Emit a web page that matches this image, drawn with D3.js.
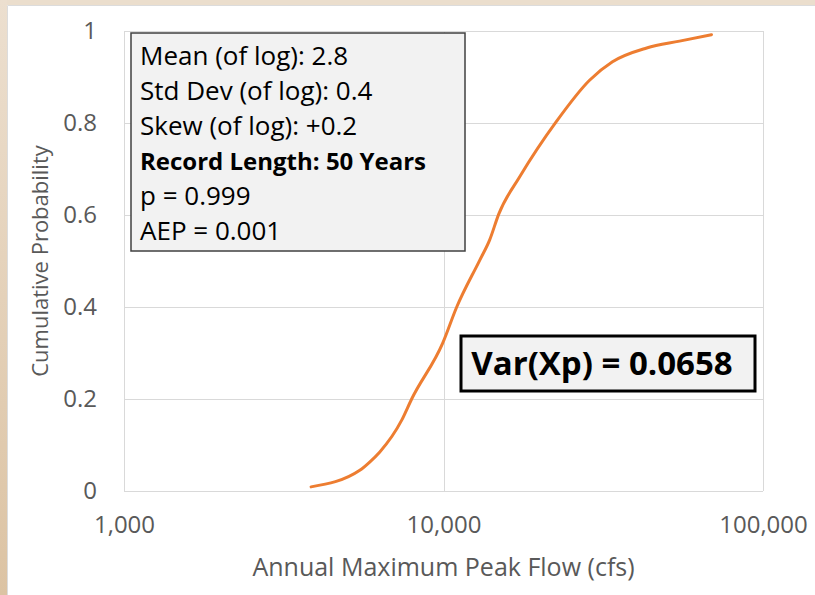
<!DOCTYPE html>
<meta charset="utf-8">
<script src="https://d3js.org/d3.v7.min.js"></script>
<style>
  body { margin: 0; background: #fff; }
  text { font-family: "Open Sans", sans-serif; }
</style>
<div id="chart"></div>
<script>

// flow values (cfs) and cumulative probability
var flows = [3850, 5470, 5875, 6320, 7400, 7950, 9950, 11000, 12990, 13950, 14890, 17320, 22600, 28650, 33800, 43250, 54800, 69000];
var probs = [0.009, 0.045, 0.063, 0.085, 0.154, 0.2, 0.322, 0.4, 0.502, 0.546, 0.602, 0.683, 0.804, 0.893, 0.933, 0.963, 0.978, 0.992];

var xTicks = [1000, 10000, 100000];
var yTicks = [0, 0.2, 0.4, 0.6, 0.8, 1];

var statLines = ["Mean (of log): 2.8", "Std Dev (of log): 0.4", "Skew (of log): +0.2",
                 "Record Length: 50 Years", "p = 0.999", "AEP = 0.001"];
var varLabel = "Var(Xp) = 0.0658";

var W = 815, H = 595;
var margin = {top: 31, right: 52, bottom: 104, left: 124},
    width = W - margin.left - margin.right,
    height = H - margin.top - margin.bottom;

var svg = d3.select("#chart").append("svg")
    .attr("width", W)
    .attr("height", H);

// beige frame on top / left
var defs = svg.append("defs");
var grad = defs.append("linearGradient").attr("id", "leftgrad")
    .attr("x1", 0).attr("y1", 0).attr("x2", 0).attr("y2", 1);
grad.append("stop").attr("offset", "0%").attr("stop-color", "#ecdfcf");
grad.append("stop").attr("offset", "100%").attr("stop-color", "#dcc3a3");

svg.append("rect").attr("x", 0).attr("y", 0).attr("width", W).attr("height", 5).attr("fill", "#ebdecd");
svg.append("rect").attr("x", 0).attr("y", 0).attr("width", 7).attr("height", H).attr("fill", "url(#leftgrad)");
svg.append("line").attr("x1", 7.5).attr("x2", W).attr("y1", 5.5).attr("y2", 5.5).attr("stroke", "#dcdcdc");
svg.append("line").attr("x1", 7.5).attr("x2", 7.5).attr("y1", 5.5).attr("y2", H).attr("stroke", "#dcdcdc");

var g = svg.append("g")
    .attr("transform", "translate(" + margin.left + "," + margin.top + ")");

var x = d3.scaleLog().domain([1000, 100000]).range([0, width]);
var y = d3.scaleLinear().domain([0, 1]).range([height, 0]);

// gridlines
g.selectAll(".hgrid").data(yTicks).enter().append("line")
    .attr("x1", 0).attr("x2", width)
    .attr("y1", function(d) { return Math.round(y(d)) + 0.5; })
    .attr("y2", function(d) { return Math.round(y(d)) + 0.5; })
    .attr("stroke", "#d9d9d9").attr("stroke-width", 1);
g.selectAll(".vgrid").data(xTicks).enter().append("line")
    .attr("y1", 0).attr("y2", height)
    .attr("x1", function(d) { return Math.round(x(d)) + 0.5; })
    .attr("x2", function(d) { return Math.round(x(d)) + 0.5; })
    .attr("stroke", "#d9d9d9").attr("stroke-width", 1);

// axes (labels only)
var fmt = d3.format(",");
var xAxis = g.append("g")
    .attr("transform", "translate(0," + height + ")")
    .call(d3.axisBottom(x).tickValues(xTicks).tickFormat(fmt).tickSize(0).tickPadding(25));
var yAxis = g.append("g")
    .call(d3.axisLeft(y).tickValues(yTicks).tickFormat(function(d) { return d3.format("")(d); }).tickSize(0).tickPadding(27));
[xAxis, yAxis].forEach(function(a) {
  a.select(".domain").remove();
  a.selectAll("text").attr("fill", "#595959").style("font-size", "24px").style("font-family", "Open Sans, sans-serif");
});

// curve
var pts = flows.map(function(f, i) { return [f, probs[i]]; });
g.append("path")
    .datum(pts)
    .attr("fill", "none")
    .attr("stroke", "#ed7d31")
    .attr("stroke-width", 3)
    .attr("stroke-linecap", "round")
    .attr("d", d3.line()
      .x(function(d) { return x(d[0]); })
      .y(function(d) { return y(d[1]); })
      .curve(d3.curveMonotoneX));

// axis titles
svg.append("text")
    .attr("x", margin.left + width / 2)
    .attr("y", 576)
    .attr("text-anchor", "middle")
    .attr("fill", "#595959")
    .style("font-size", "25px")
    .text("Annual Maximum Peak Flow (cfs)");

svg.append("text")
    .attr("transform", "translate(48," + (margin.top + height / 2) + ") rotate(-90)")
    .attr("text-anchor", "middle")
    .attr("fill", "#595959")
    .style("font-size", "22px")
    .text("Cumulative Probability");

// stats box
var stats = svg.append("g");
stats.append("rect")
    .attr("x", 131).attr("y", 33).attr("width", 334).attr("height", 218)
    .attr("fill", "#f2f2f2").attr("stroke", "#404040").attr("stroke-width", 1.5);
stats.selectAll("text").data(statLines).enter().append("text")
    .attr("x", 140)
    .attr("y", function(d, i) { return 65 + i * 35; })
    .attr("fill", "#000")
    .style("font-size", function(d, i) { return i === 3 ? "24px" : "26px"; })
    .style("font-weight", function(d, i) { return i === 3 ? "bold" : "normal"; })
    .text(function(d) { return d; });

// Var(Xp) box
var vb = svg.append("g");
vb.append("rect")
    .attr("x", 461).attr("y", 336).attr("width", 294).attr("height", 55)
    .attr("fill", "#f2f2f2").attr("stroke", "#000").attr("stroke-width", 3);
vb.append("text")
    .attr("x", 602).attr("y", 375)
    .attr("text-anchor", "middle")
    .attr("fill", "#000")
    .style("font-size", "33px")
    .style("font-weight", "bold")
    .text(varLabel);

</script>
